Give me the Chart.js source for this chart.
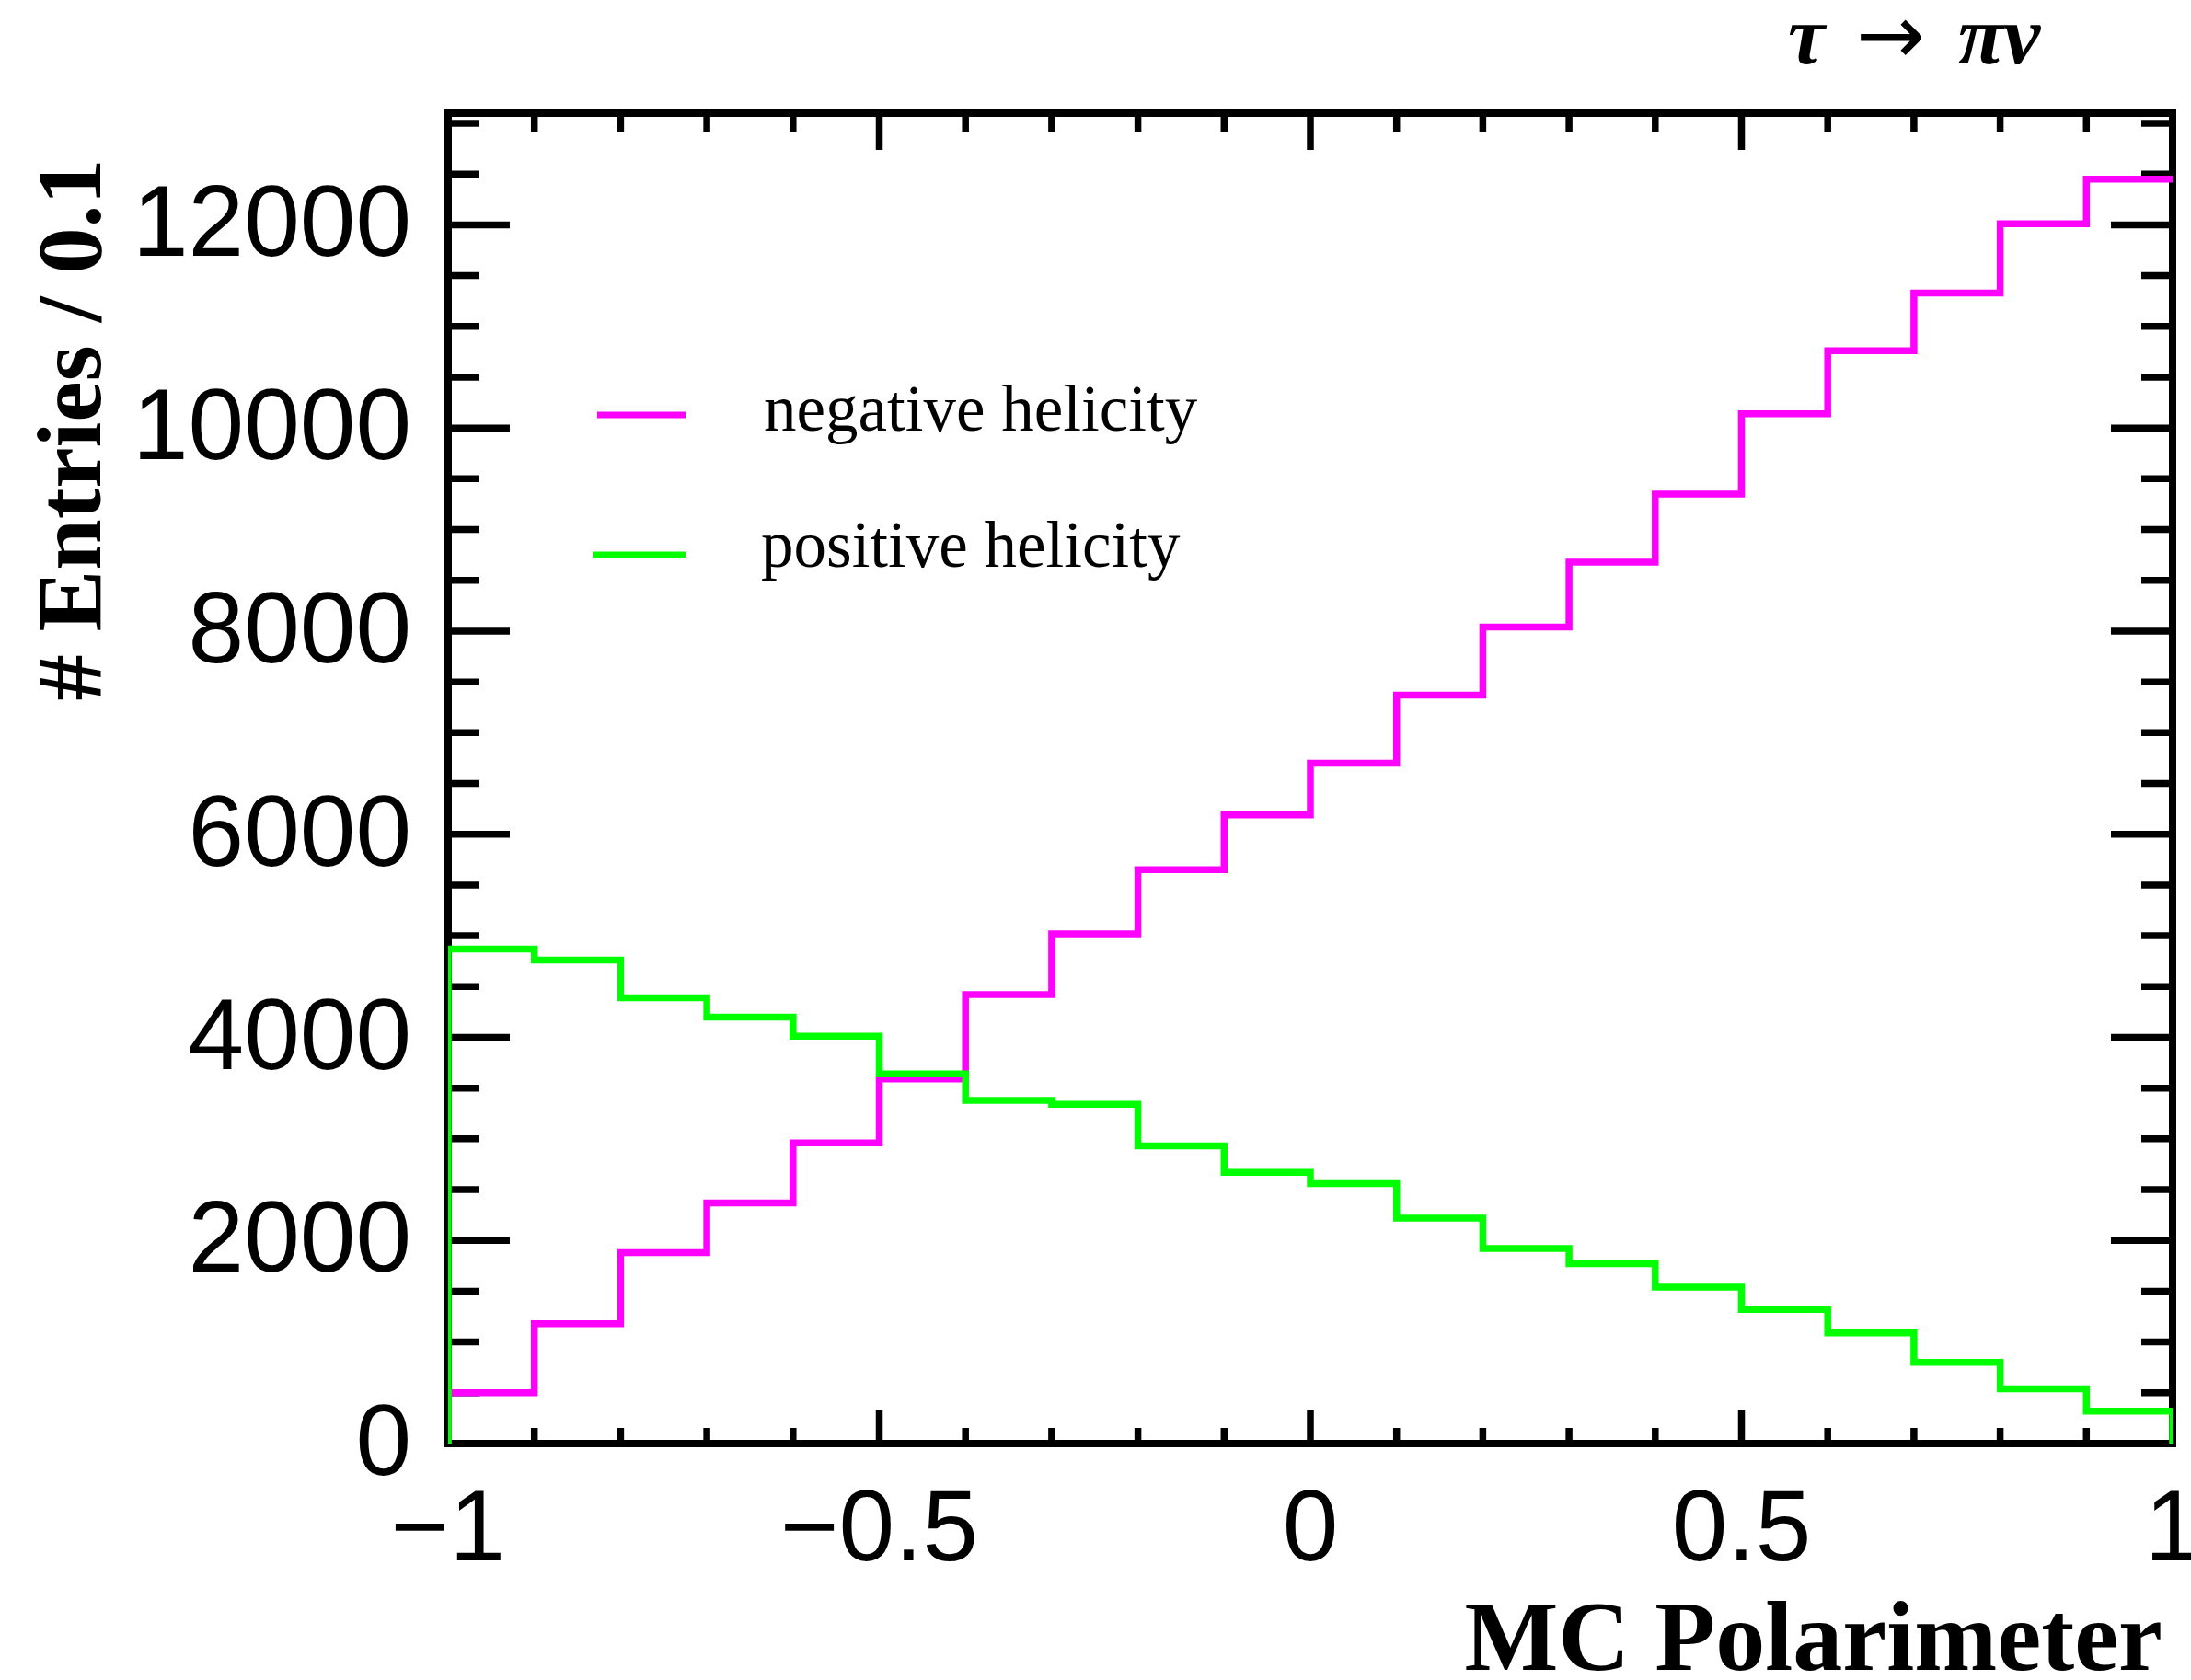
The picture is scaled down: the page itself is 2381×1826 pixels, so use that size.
<!DOCTYPE html>
<html>
<head>
<meta charset="utf-8">
<script src="https://cdn.jsdelivr.net/npm/chart.js@4.4.1/dist/chart.umd.min.js"></script>
<style>
  html, body { margin: 0; padding: 0; background: #fff; }
  canvas { display: block; }
</style>
</head>
<body>
<canvas id="histChart" width="2381" height="1826"></canvas>
<script>
// lower bin edges, histogram upper edge
const binEdges = [-1.0, -0.9, -0.8, -0.7, -0.6, -0.5, -0.4, -0.3, -0.2, -0.1,
                  0.0, 0.1, 0.2, 0.3, 0.4, 0.5, 0.6, 0.7, 0.8, 0.9];
const upperEdge = 1.0;

const negativeHelicity = [500, 1180, 1880, 2370, 2960, 3590, 4420, 5020, 5650, 6190,
                          6700, 7370, 8040, 8680, 9350, 10140, 10760, 11330, 12010, 12450];
const positiveHelicity = [4870, 4760, 4390, 4200, 4010, 3640, 3380, 3340, 2930, 2670,
                          2560, 2220, 1920, 1770, 1540, 1320, 1090, 800, 540, 320];

const xTicks = [-1, -0.5, 0, 0.5, 1];
const yTicks = [0, 2000, 4000, 6000, 8000, 10000, 12000];

const serif = '"Liberation Serif", "Times New Roman", serif';
const sans = '"Liberation Sans", Arial, Helvetica, sans-serif';

function stepPoints(counts, closeRight) {
  const pts = [{ x: binEdges[0], y: 0 }];
  counts.forEach((c, i) => pts.push({ x: binEdges[i], y: c }));
  pts.push({ x: upperEdge, y: counts[counts.length - 1] });
  if (closeRight) pts.push({ x: upperEdge, y: 0 });
  return pts;
}

// box frame with inward ticks on all four sides (ROOT style)
const frameTicks = {
  id: 'frameTicks',
  beforeDatasetsDraw(chart) {
    const { ctx, chartArea: a, scales: { x, y } } = chart;
    ctx.save();
    ctx.strokeStyle = '#000';
    ctx.lineWidth = 7.5;
    ctx.lineCap = 'butt';
    ctx.beginPath();
    for (let i = -10; i <= 10; i++) {
      const px = x.getPixelForValue(i / 10);
      const bl = i % 5 === 0 ? 37 : 17;
      const tl = i % 5 === 0 ? 40 : 20;
      ctx.moveTo(px, a.bottom); ctx.lineTo(px, a.bottom - bl);
      ctx.moveTo(px, a.top); ctx.lineTo(px, a.top + tl);
    }
    for (let i = 0; i <= 26; i++) {
      const py = y.getPixelForValue(i * 500);
      const len = i % 4 === 0 ? 67 : 34;
      ctx.moveTo(a.left, py); ctx.lineTo(a.left + len, py);
      ctx.moveTo(a.right, py); ctx.lineTo(a.right - len, py);
    }
    ctx.stroke();
    ctx.lineWidth = 8;
    ctx.strokeRect(a.left, a.top, a.right - a.left, a.bottom - a.top);
    ctx.restore();
  },
  afterDraw(chart) {
    const { ctx } = chart;
    ctx.save();
    ctx.fillStyle = '#000';

    // legend
    ctx.font = '71px ' + serif;
    ctx.textBaseline = 'alphabetic';
    ctx.textAlign = 'left';
    const legendRows = [
      { ds: chart.data.datasets[0], y: 451, x0: 649, tx: 830, base: 468 },
      { ds: chart.data.datasets[1], y: 603, x0: 644, tx: 827, base: 616 }
    ];
    legendRows.forEach(r => {
      ctx.strokeStyle = r.ds.borderColor;
      ctx.lineWidth = 7;
      ctx.beginPath();
      ctx.moveTo(r.x0, r.y); ctx.lineTo(745, r.y);
      ctx.stroke();
      ctx.fillText(r.ds.label, r.tx, r.base);
    });

    // x title
    ctx.font = 'bold 108px ' + serif;
    ctx.textAlign = 'right';
    ctx.fillText('MC Polarimeter', 2350, 1815);

    // y title
    ctx.save();
    ctx.font = 'bold 100px ' + serif;
    ctx.translate(109, 467);
    ctx.rotate(-Math.PI / 2);
    ctx.textAlign = 'center';
    ctx.fillText('# Entries / 0.1', 0, 0);
    ctx.restore();

    // decay label
    ctx.textAlign = 'left';
    ctx.font = 'italic bold 90px ' + serif;
    ctx.fillText('\u03C4', 1943, 69);
    ctx.fillText('\u03C0\u03BD', 2128, 69);
    ctx.font = '90px "DejaVu Sans", sans-serif';
    ctx.fillText('\u2192', 2017, 69);
    ctx.restore();
  }
};

new Chart(document.getElementById('histChart'), {
  type: 'line',
  data: {
    datasets: [
      {
        label: 'negative helicity',
        data: stepPoints(negativeHelicity, false),
        borderColor: '#ff00ff',
        order: 1
      },
      {
        label: 'positive helicity',
        data: stepPoints(positiveHelicity, true),
        borderColor: '#00ff00',
        order: 0
      }
    ]
  },
  options: {
    responsive: false,
    animation: false,
    parsing: false,
    layout: { padding: { left: 0, right: 20, top: 123, bottom: 0 } },
    elements: {
      line: { borderWidth: 7.5, stepped: true, fill: false, tension: 0, borderJoinStyle: 'miter' },
      point: { radius: 0 }
    },
    plugins: { legend: { display: false }, tooltip: { enabled: false } },
    scales: {
      x: {
        type: 'linear',
        min: -1,
        max: 1,
        grid: { display: false, drawTicks: false },
        border: { display: false },
        ticks: {
          autoSkip: false,
          maxRotation: 0,
          padding: 32,
          color: '#000',
          font: { family: sans, size: 109 },
          callback: v => String(v).replace('-', '\u2212')
        },
        afterBuildTicks: s => { s.ticks = xTicks.map(v => ({ value: v })); },
        afterFit: s => { s.height = 257; s.paddingLeft = 0; s.paddingRight = 0; }
      },
      y: {
        type: 'linear',
        min: 0,
        max: 13100,
        grid: { display: false, drawTicks: false },
        border: { display: false },
        ticks: {
          padding: 40,
          labelOffset: 4,
          color: '#000',
          font: { family: sans, size: 109 },
          callback: v => String(v)
        },
        afterBuildTicks: s => { s.ticks = yTicks.map(v => ({ value: v })); },
        afterFit: s => { s.width = 487; s.paddingTop = 0; s.paddingBottom = 0; }
      }
    }
  },
  plugins: [frameTicks]
});
</script>
</body>
</html>
